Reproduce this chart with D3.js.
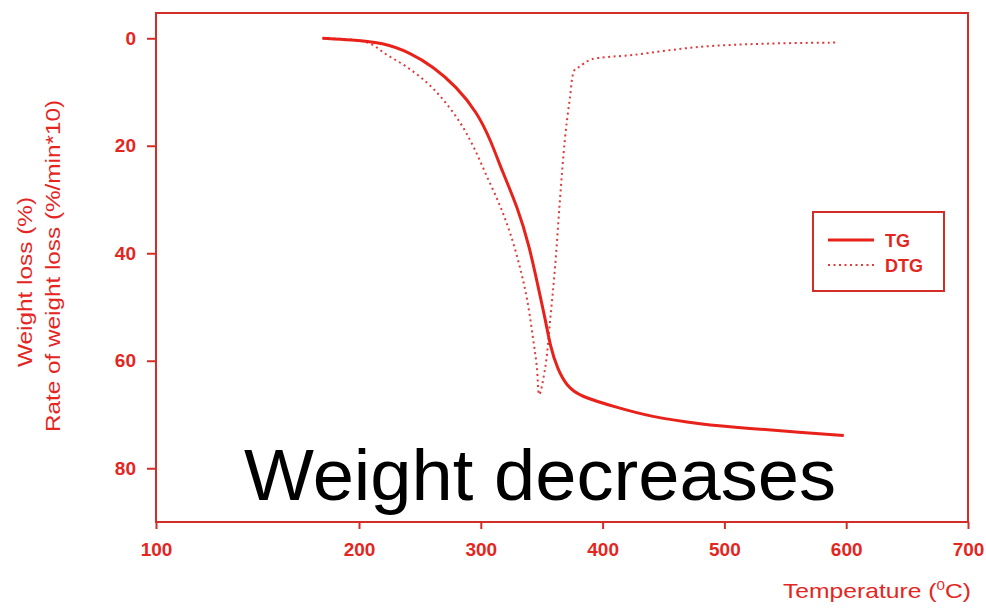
<!DOCTYPE html>
<html>
<head>
<meta charset="utf-8">
<script src="https://d3js.org/d3.v7.min.js"></script>
<style>
    body { margin: 0; background: #fff; }
    .axis text { font-family: "Liberation Sans", Arial, sans-serif; font-size: 19px; font-weight: bold; fill: #e4261f; }
    .axis path { display: none; }
    .axis line { stroke: #d22d26; stroke-width: 2; }
</style>
</head>
<body>
<script>
//wrap everything in a self-executing anonymous function
(function(){

    //TG curve (weight loss, %)
    var tgTemp = [182, 196, 220, 242, 261, 280, 297, 308, 318, 330, 340, 347, 353, 357, 363, 371, 381, 412, 439, 480, 521, 562, 598];
    var tgValue = [0, 0.3, 0.8, 2.7, 5.3, 9.0, 13.8, 18.9, 25.0, 31.3, 38.8, 46.2, 52.3, 57.3, 61.6, 64.8, 66.6, 68.7, 70.4, 71.8, 72.6, 73.3, 73.9];

    //DTG curve (rate of weight loss, %/min*10)
    var dtgTemp = [182, 207, 223, 239, 256, 269, 283, 294, 305, 316, 324, 332, 338, 343, 346, 348, 353, 357, 361, 365, 369, 373, 377, 381, 390, 425, 480, 535, 593];
    var dtgValue = [0, 0.8, 3.1, 5.3, 8.3, 11.4, 15.7, 20.2, 25.7, 31.3, 36.2, 42.5, 48.6, 56.0, 61.1, 66.3, 61.1, 52.3, 42.5, 30.0, 18.9, 11.4, 5.9, 5.3, 4.0, 3.1, 1.6, 1.0, 0.8];

    //tick labels
    var xTicks = [100, 200, 300, 400, 500, 600, 700];
    var yTicks = [0, 20, 40, 60, 80];

    var seriesNames = ["TG", "DTG"];

    var red = "#e4261f",
        frameRed = "#d22d26";

    window.onload = setChart();

    function setChart(){
        var width = 986,
            height = 610,
            left = 156,
            right = 968,
            top = 13,
            bottom = 522;

        var svg = d3.select("body")
            .append("svg")
            .attr("width", width)
            .attr("height", height);

        //the printed axis is stretched between 100 and 200, so piecewise
        var x = d3.scaleLinear()
            .domain([100, 200, 700])
            .range([left, 359, right]);

        var y = d3.scaleLinear()
            .domain([-4.7, 90])
            .range([top, bottom]);

        //y axis ticks + labels
        svg.append("g")
            .attr("class", "axis")
            .attr("transform", "translate(" + left + ",0)")
            .call(d3.axisLeft(y).tickValues(yTicks).tickSize(9).tickPadding(11));

        //x axis ticks + labels
        svg.append("g")
            .attr("class", "axis")
            .attr("transform", "translate(0," + bottom + ")")
            .call(d3.axisBottom(x).tickValues(xTicks).tickSize(7).tickPadding(14));

        //plot frame
        svg.append("rect")
            .attr("x", left)
            .attr("y", top)
            .attr("width", right - left)
            .attr("height", bottom - top)
            .attr("fill", "none")
            .attr("stroke", frameRed)
            .attr("stroke-width", 2);

        //TG is smoothed a little, DTG keeps its sharp dip
        var line = d3.line()
            .x(function(d){ return x(d[0]); })
            .y(function(d){ return y(d[1]); })
            .curve(d3.curveBasis);

        var lineDtg = d3.line()
            .x(function(d){ return x(d[0]); })
            .y(function(d){ return y(d[1]); })
            .curve(d3.curveCatmullRom.alpha(0.5));

        //DTG dotted
        svg.append("path")
            .datum(d3.zip(dtgTemp, dtgValue))
            .attr("d", lineDtg)
            .attr("fill", "none")
            .attr("stroke", "#e03a3a")
            .attr("stroke-width", 2)
            .attr("stroke-dasharray", "2,3.5");

        //TG solid
        svg.append("path")
            .datum(d3.zip(tgTemp, tgValue))
            .attr("d", line)
            .attr("fill", "none")
            .attr("stroke", "#e8221a")
            .attr("stroke-width", 3);

        //axis titles
        var font = "'Liberation Sans', Arial, sans-serif";

        svg.append("text")
            .attr("transform", "translate(32,282) rotate(-90)")
            .attr("text-anchor", "middle")
            .attr("textLength", 170)
            .attr("lengthAdjust", "spacingAndGlyphs")
            .style("font-family", font)
            .style("font-size", "20px")
            .style("fill", red)
            .text("Weight loss (%)");

        svg.append("text")
            .attr("transform", "translate(60,266) rotate(-90)")
            .attr("text-anchor", "middle")
            .attr("textLength", 332)
            .attr("lengthAdjust", "spacingAndGlyphs")
            .style("font-family", font)
            .style("font-size", "20px")
            .style("fill", red)
            .text("Rate of weight loss (%/min*10)");

        var xTitle = svg.append("text")
            .attr("x", 783)
            .attr("y", 598)
            .attr("textLength", 188)
            .attr("lengthAdjust", "spacingAndGlyphs")
            .style("font-family", font)
            .style("font-size", "21px")
            .style("fill", red);
        xTitle.append("tspan").text("Temperature (");
        xTitle.append("tspan").attr("dy", -8).style("font-size", "13px").text("0");
        xTitle.append("tspan").attr("dy", 8).text("C)");

        //legend
        var legend = svg.append("g");
        legend.append("rect")
            .attr("x", 813)
            .attr("y", 212)
            .attr("width", 131)
            .attr("height", 79)
            .attr("fill", "#fff")
            .attr("stroke", frameRed)
            .attr("stroke-width", 2);

        seriesNames.forEach(function(name, i){
            var ly = 240 + i * 25;
            legend.append("line")
                .attr("x1", 828)
                .attr("x2", 874)
                .attr("y1", ly)
                .attr("y2", ly)
                .attr("stroke", i == 0 ? "#e8221a" : "#e03a3a")
                .attr("stroke-width", i == 0 ? 3 : 2)
                .attr("stroke-dasharray", i == 0 ? null : "2,3.5");
            legend.append("text")
                .attr("x", 885)
                .attr("y", ly + 7)
                .style("font-family", font)
                .style("font-size", "18px")
                .style("font-weight", "bold")
                .style("fill", red)
                .text(name);
        });

        //overlay caption
        svg.append("text")
            .attr("x", 244)
            .attr("y", 500)
            .attr("textLength", 592)
            .attr("lengthAdjust", "spacingAndGlyphs")
            .style("font-family", font)
            .style("font-size", "72px")
            .style("fill", "#000")
            .text("Weight decreases");
    };
})();
</script>
</body>
</html>
